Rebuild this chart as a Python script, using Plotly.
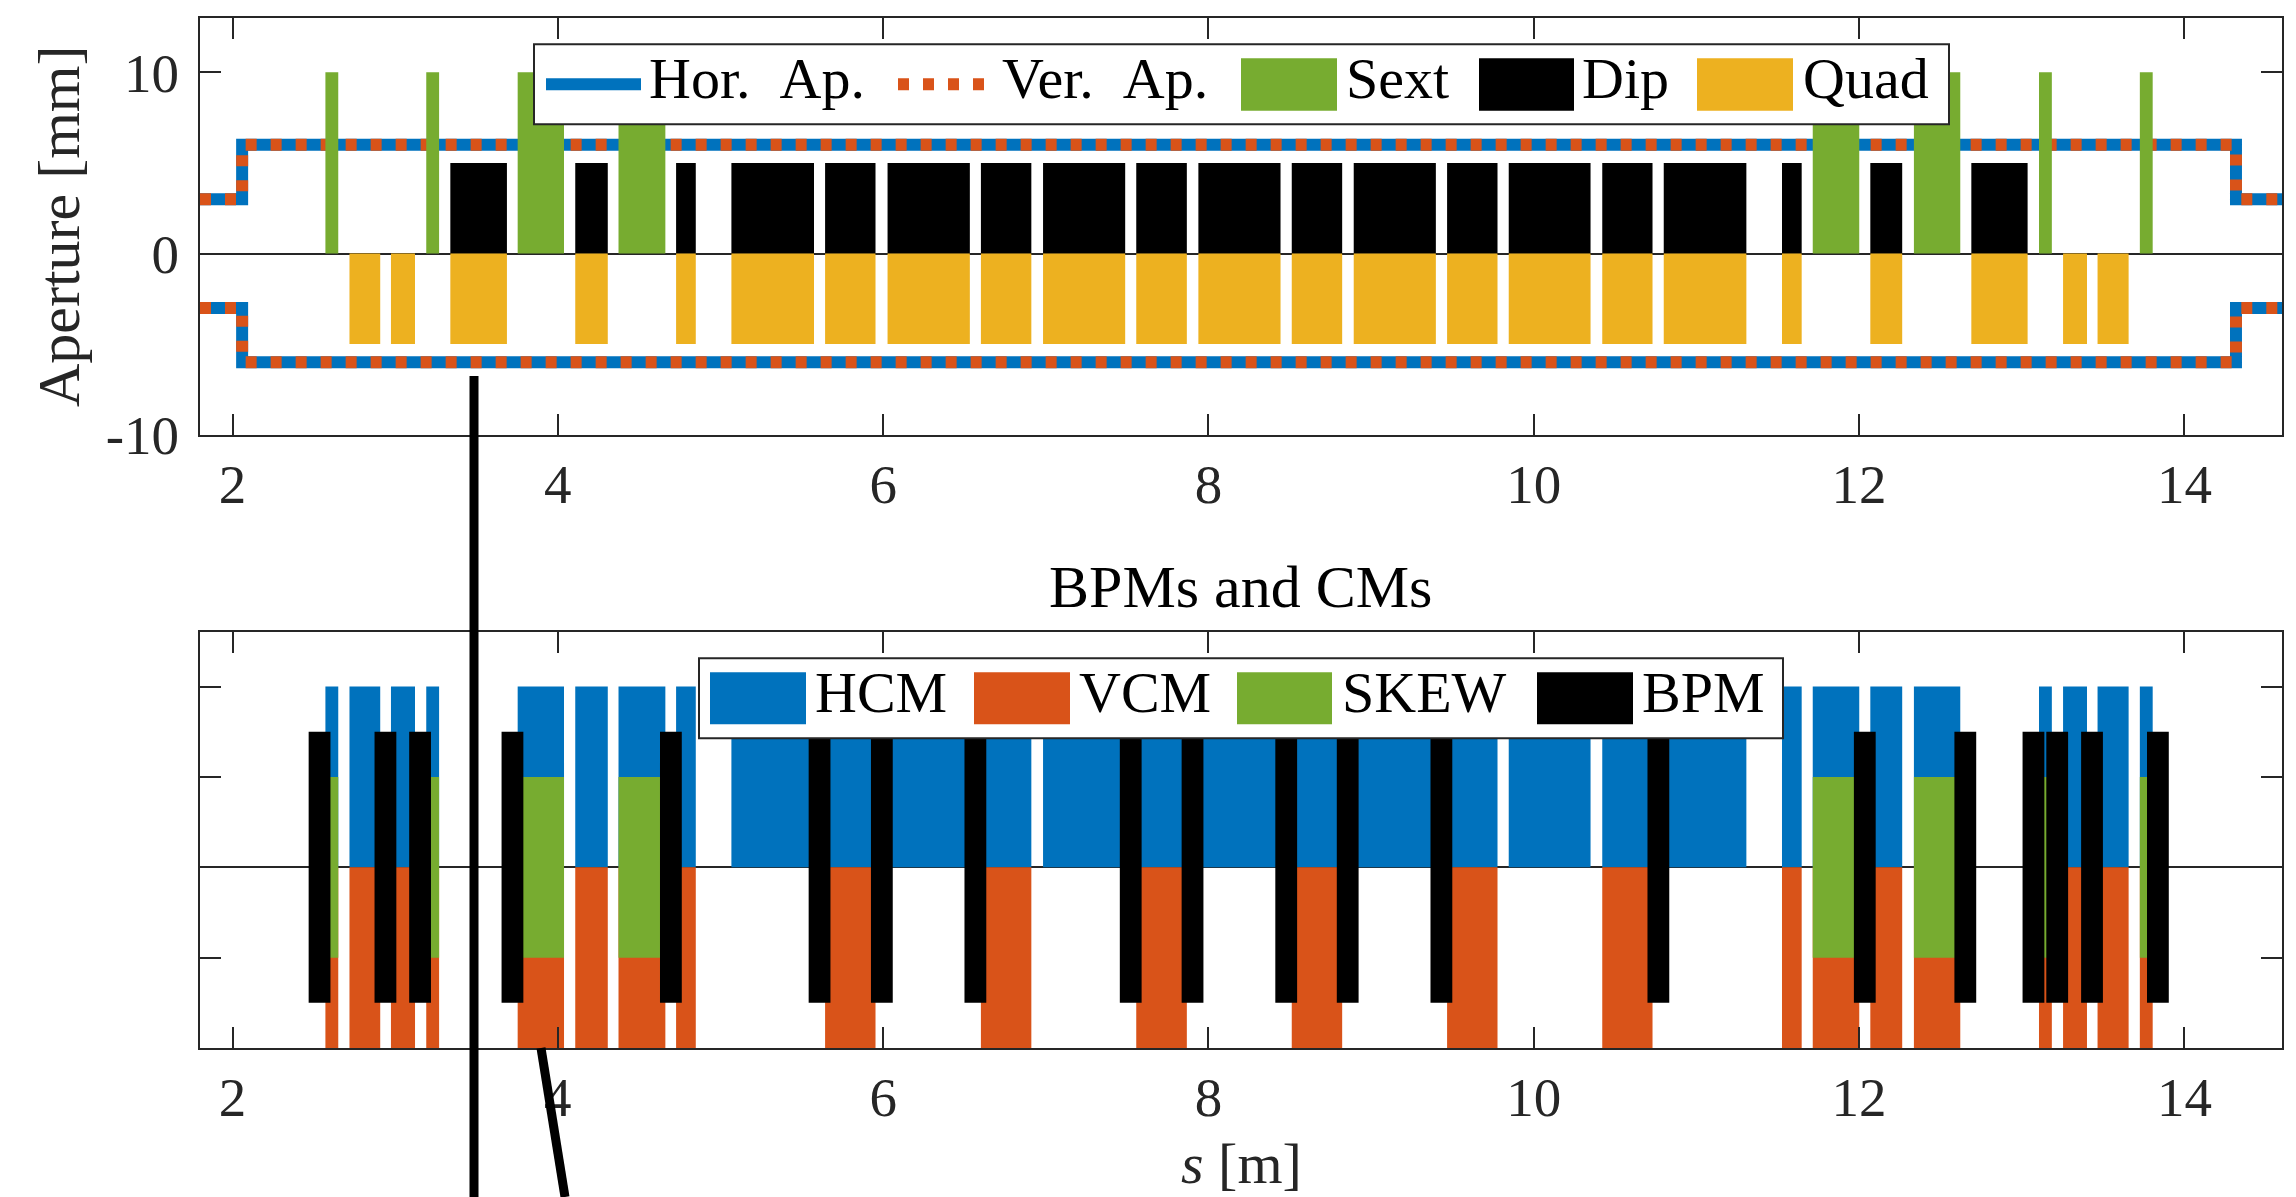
import plotly.graph_objects as go

# ---------------- data (s in m) ----------------
sext_start = [2.571, 3.191, 3.753, 4.373, 11.715, 12.337, 13.106, 13.726]
sext_end   = [2.650, 3.270, 4.038, 4.661, 12.001, 12.622, 13.185, 13.805]

dip_start = [3.339, 4.107, 4.727, 5.067, 5.643, 6.027, 6.601, 6.983, 7.556, 7.938,
             8.512, 8.893, 9.467, 9.846, 10.421, 10.799, 11.526, 12.069, 12.690]
dip_end   = [3.687, 4.307, 4.848, 5.575, 5.953, 6.533, 6.911, 7.488, 7.867, 8.443,
             8.822, 9.398, 9.777, 10.349, 10.730, 11.307, 11.647, 12.265, 13.036]

quad_start = [2.719, 2.974, 3.339, 4.107, 4.727, 5.067, 5.643, 6.027, 6.601, 6.983,
              7.556, 7.938, 8.512, 8.893, 9.467, 9.846, 10.421, 10.799, 11.526,
              12.069, 12.690, 13.254, 13.466]
quad_end   = [2.908, 3.122, 3.687, 4.307, 4.848, 5.575, 5.953, 6.533, 6.911, 7.488,
              7.867, 8.443, 8.822, 9.398, 9.777, 10.349, 10.730, 11.307, 11.647,
              12.265, 13.036, 13.401, 13.657]

sext_height = 10.0
dip_height = 5.0
quad_height = -5.0

ap_s = [1.8, 2.059, 2.059, 14.317, 14.317, 14.6]
hor_ap = [3, 3, 6, 6, 3, 3]
ver_ap = [3, 3, 6, 6, 3, 3]

hcm_start = [2.571, 2.719, 2.974, 3.191, 3.753, 4.107, 4.373, 4.727, 5.067, 5.643,
             6.027, 6.601, 6.983, 7.556, 7.938, 8.512, 8.893, 9.467, 9.846, 10.421,
             10.799, 11.526, 11.715, 12.069, 12.337, 13.106, 13.254, 13.466, 13.726]
hcm_end   = [2.650, 2.908, 3.122, 3.270, 4.038, 4.307, 4.661, 4.848, 5.575, 5.953,
             6.533, 6.911, 7.488, 7.867, 8.443, 8.822, 9.398, 9.777, 10.349, 10.730,
             11.307, 11.647, 12.001, 12.265, 12.622, 13.185, 13.401, 13.657, 13.805]

vcm_start = [2.571, 2.719, 2.974, 3.191, 3.753, 4.107, 4.373, 4.727, 5.643, 6.601,
             7.556, 8.512, 9.467, 10.421, 11.526, 11.715, 12.069, 12.337, 13.106,
             13.254, 13.466, 13.726]
vcm_end   = [2.650, 2.908, 3.122, 3.270, 4.038, 4.307, 4.661, 4.848, 5.953, 6.911,
             7.867, 8.822, 9.777, 10.730, 11.647, 12.001, 12.265, 12.622, 13.185,
             13.401, 13.657, 13.805]

skew_start = sext_start
skew_end = sext_end

bpm_s = [2.535, 2.940, 3.153, 3.721, 4.695, 5.609, 5.992, 6.567, 7.522, 7.902,
         8.478, 8.856, 9.432, 10.766, 12.035, 12.653, 13.072, 13.218, 13.432, 13.837]
bpm_width = 0.134

hcm_range = (0.0, 2.0)
vcm_range = (-2.0, 0.0)
skew_range = (-1.0, 1.0)
bpm_range = (-1.5, 1.5)

x_ticks = [2, 4, 6, 8, 10, 12, 14]
x_ticktext = ["2", "4", "6", "8", "10", "12", "14"]
y1_ticks = [-10, 0, 10]
y1_ticktext = ["-10", "0", "10"]
y2_ticks = [-2, -1, 0, 1, 2]

# ---------------- styles ----------------
BLUE = "#0072BD"
ORANGE = "#D95319"
YELLOW = "#EDB120"
GREEN = "#77AC30"
BLACK = "#000000"
AXC = "#262626"
FONT = "Liberation Serif"

W, H = 2296, 1197
ML, MR, MT, MB = 200, 14, 18, 149
PW, PH = W - ML - MR, H - MT - MB


def px(xf):
    return (xf - ML) / PW


def py(yf):
    return (H - MB - yf) / PH


def rects(starts, ends, lo, hi):
    xs, ys = [], []
    for a, b in zip(starts, ends):
        xs += [a, a, b, b, a, None]
        ys += [lo, hi, hi, lo, lo, None]
    return xs, ys


fig = go.Figure()


def ap_xy(vals):
    xs = list(ap_s) + [None] + list(ap_s)
    ys = list(vals) + [None] + [-v for v in vals]
    return xs, ys


hx, hy = ap_xy(hor_ap)
fig.add_trace(go.Scatter(x=hx, y=hy, mode="lines", name="Hor. Ap.",
                         line=dict(color=BLUE, width=12), xaxis="x", yaxis="y",
                         showlegend=False))
vx, vy = ap_xy(ver_ap)
fig.add_trace(go.Scatter(x=vx, y=vy, mode="lines", name="Ver. Ap.",
                         line=dict(color=ORANGE, width=12, dash="11px,14px"),
                         xaxis="x", yaxis="y", showlegend=False))


def add_bars(name, starts, ends, lo, hi, color, xa, ya):
    xs, ys = rects(starts, ends, lo, hi)
    fig.add_trace(go.Scatter(x=xs, y=ys, mode="lines", fill="toself",
                             fillcolor=color, line=dict(width=0, color=color),
                             name=name, xaxis=xa, yaxis=ya, showlegend=False,
                             hoveron="fills"))


add_bars("Sext", sext_start, sext_end, 0, sext_height, GREEN, "x", "y")
add_bars("Dip", dip_start, dip_end, 0, dip_height, BLACK, "x", "y")
add_bars("Quad", quad_start, quad_end, quad_height, 0, YELLOW, "x", "y")

add_bars("HCM", hcm_start, hcm_end, hcm_range[0], hcm_range[1], BLUE, "x2", "y2")
add_bars("VCM", vcm_start, vcm_end, vcm_range[0], vcm_range[1], ORANGE, "x2", "y2")
add_bars("SKEW", skew_start, skew_end, skew_range[0], skew_range[1], GREEN, "x2", "y2")
bpm_start = [s - bpm_width / 2 for s in bpm_s]
bpm_end = [s + bpm_width / 2 for s in bpm_s]
add_bars("BPM", bpm_start, bpm_end, bpm_range[0], bpm_range[1], BLACK, "x2", "y2")

axis_common = dict(showline=True, linecolor=AXC, linewidth=2, mirror="ticks",
                   ticks="inside", ticklen=21, tickwidth=2, tickcolor=AXC,
                   showgrid=False, tickfont=dict(family=FONT, size=55, color=AXC))

top_lo = py(434.7)
bot_hi = py(632.3)

fig.update_layout(
    width=W, height=H,
    margin=dict(l=ML, r=MR, t=MT, b=MB, pad=0),
    paper_bgcolor="white", plot_bgcolor="white",
    showlegend=False,
    font=dict(family=FONT, color="black"),
    xaxis=dict(domain=[0, 1], anchor="y", range=[1.8, 14.6], tickmode="array",
               tickvals=x_ticks, ticktext=x_ticktext, zeroline=False,
               ticklabelstandoff=0, **axis_common),
    yaxis=dict(domain=[top_lo, 1], anchor="x", range=[-10, 13], tickmode="array",
               tickvals=y1_ticks, ticktext=y1_ticktext, zeroline=True,
               zerolinecolor=AXC, zerolinewidth=1.5, ticklabelstandoff=8,
               **axis_common),
    xaxis2=dict(domain=[0, 1], anchor="y2", range=[1.8, 14.6], tickmode="array",
                tickvals=x_ticks, ticktext=x_ticktext, zeroline=False,
                ticklabelstandoff=0, **axis_common),
    yaxis2=dict(domain=[0, bot_hi], anchor="x2", range=[-2, 2.6], tickmode="array",
                tickvals=y2_ticks, showticklabels=False, zeroline=True,
                zerolinecolor=AXC, zerolinewidth=1.5, **axis_common),
)

shapes = []
annots = []


def box(x0, x1, y0, y1):
    shapes.append(dict(type="rect", xref="paper", yref="paper",
                       x0=px(x0), x1=px(x1), y0=py(y1), y1=py(y0),
                       fillcolor="white", line=dict(color=AXC, width=2), layer="above"))


def swatch(x0, x1, y0, y1, color):
    shapes.append(dict(type="rect", xref="paper", yref="paper",
                       x0=px(x0), x1=px(x1), y0=py(y1), y1=py(y0),
                       fillcolor=color, line=dict(width=0), layer="above"))


def label(x, y, text, size=58):
    annots.append(dict(xref="paper", yref="paper", x=px(x), y=py(y), text=text,
                       showarrow=False, xanchor="left", yanchor="middle",
                       font=dict(family=FONT, size=size, color="black"), borderpad=0))


# legend 1 (top)
box(534, 1949, 44.3, 124.3)
yc = 84.3
yt = 78.5
shapes.append(dict(type="line", xref="paper", yref="paper", x0=px(546), x1=px(641),
                   y0=py(yc), y1=py(yc), line=dict(color=BLUE, width=12), layer="above"))
label(648, yt, "Hor.\u00a0\u00a0Ap.")
shapes.append(dict(type="line", xref="paper", yref="paper", x0=px(898), x1=px(986),
                   y0=py(yc), y1=py(yc), line=dict(color=ORANGE, width=12, dash="11px,14px"),
                   layer="above"))
label(1001, yt, "Ver.\u00a0\u00a0Ap.")
swatch(1241, 1337, 58.3, 110.7, GREEN)
label(1345, yt, "Sext")
swatch(1479, 1574, 58.3, 110.7, BLACK)
label(1581, yt, "Dip")
swatch(1697, 1793, 58.3, 110.7, YELLOW)
label(1802, yt, "Quad")

# legend 2 (bottom)
box(699, 1783, 658.3, 738.3)
yt2 = 693
swatch(710, 806, 672.3, 724.3, BLUE)
label(814, yt2, "HCM")
swatch(974, 1070, 672.3, 724.3, ORANGE)
label(1078, yt2, "VCM")
swatch(1237, 1332, 672.3, 724.3, GREEN)
label(1341, yt2, "SKEW")
swatch(1537, 1633, 672.3, 724.3, BLACK)
label(1641, yt2, "BPM")

# stray annotation lines
shapes.append(dict(type="line", xref="paper", yref="paper", x0=px(474), x1=px(474),
                   y0=py(376), y1=py(1197), line=dict(color=BLACK, width=9), layer="above"))
shapes.append(dict(type="line", xref="paper", yref="paper", x0=px(541), x1=px(565),
                   y0=py(1048), y1=py(1197), line=dict(color=BLACK, width=9), layer="above"))

# axis titles
annots.append(dict(xref="paper", yref="paper", x=px(59), y=py(226), text="Aperture [mm]",
                   textangle=-90, showarrow=False, xanchor="center", yanchor="middle",
                   font=dict(family=FONT, size=60, color=AXC)))
annots.append(dict(xref="paper", yref="paper", x=px(1241), y=py(1163), text="<i>s</i> [m]",
                   showarrow=False, xanchor="center", yanchor="middle",
                   font=dict(family=FONT, size=58, color=AXC)))
annots.append(dict(xref="paper", yref="paper", x=px(1240), y=py(587), text="BPMs and CMs",
                   showarrow=False, xanchor="center", yanchor="middle",
                   font=dict(family=FONT, size=60, color="black")))

fig.update_layout(shapes=shapes, annotations=annots)
fig.write_html("out.html", config={"displayModeBar": False},
               post_script="document.body.style.margin='0px';document.body.style.overflow='hidden';")
